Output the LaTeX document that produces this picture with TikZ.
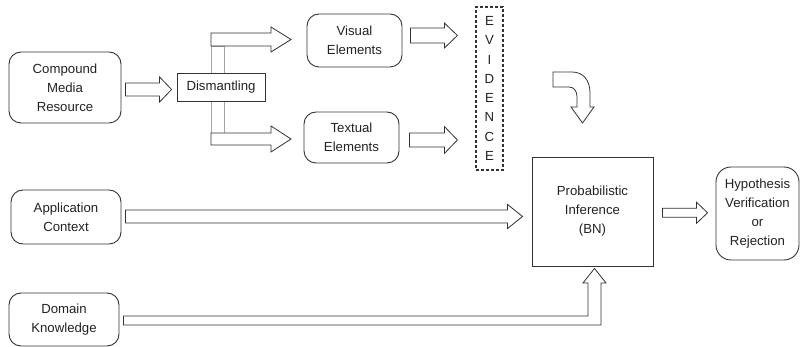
\documentclass[tikz,border=0pt]{standalone}
\usepackage{fontspec}
\setmainfont{Liberation Sans}
\usetikzlibrary{calc}
\definecolor{ln}{HTML}{333333}
\definecolor{tx}{HTML}{222222}
\tikzset{
  box/.style={draw=ln, line width=0.9pt, rounded corners=12pt, align=center, inner sep=0pt, text=tx,
    font=\fontsize{13.2}{19}\selectfont},
  sbox/.style={box, rounded corners=0pt},
  evbox/.style={draw=ln, line width=1.2pt, dash pattern=on 3pt off 2pt, align=center, inner sep=0pt, text=tx,
    font=\fontsize{13.2}{19.3}\selectfont},
  blk/.style={draw=ln, line width=0.8pt, fill=white, line join=miter},
  bar/.style={draw=gray!70, line width=0.8pt, fill=white}
}
\newcommand{\harr}[5]{%
  \draw[blk] let \p1=(#1), \p2=(#2) in
    (\x1,\y1+#3pt) -- (\x2-#5pt,\y1+#3pt) -- (\x2-#5pt,\y1+#4pt) -- (\x2,\y1)
    -- (\x2-#5pt,\y1-#4pt) -- (\x2-#5pt,\y1-#3pt) -- (\x1,\y1-#3pt) -- cycle;}
\begin{document}
\begin{tikzpicture}[x=1pt,y=-1pt]
\useasboundingbox (0,0) rectangle (801,347);
% gray bars behind the Dismantling box
\draw[bar] (211,46) rectangle (224,73);
\draw[bar] (211,101) rectangle (224,133);
% nodes
\node[box, minimum width=112pt, minimum height=71pt] (cmr) at (65,87.5) {Compound\\Media\\Resource};
\node[sbox, fill=white, minimum width=88pt, minimum height=28pt] (dis) at (221,87) {Dismantling};
\node[box, minimum width=95pt, minimum height=53pt] (vis) at (354.5,40.5) {Visual\\Elements};
\node[box, minimum width=95pt, minimum height=51pt] (tex) at (351.5,137.5) {Textual\\Elements};
\node[evbox, minimum width=27pt, minimum height=163pt] (evi) at (489.5,88.5) {E\\V\\I\\D\\E\\N\\C\\E};
\node[sbox, minimum width=121pt, minimum height=109pt] (pi) at (592.5,211.5) {Probabilistic\\Inference\\(BN)};
\node[box, rounded corners=15pt, minimum width=83pt, minimum height=93pt] (hyp) at (757.5,213.5) {Hypothesis\\Verification\\or\\Rejection};
\node[box, minimum width=110pt, minimum height=54pt] (app) at (66,217) {Application\\Context};
\node[box, minimum width=110pt, minimum height=53pt] (dom) at (64,319.5) {Domain\\Knowledge};
% arrow end points
\coordinate (a1s) at ($(cmr.east)+(4,2)$);
\coordinate (a1e) at ($(dis.west)+(-5,0)$);
\coordinate (a3s) at ($(vis.east)+(8,-5)$);
\coordinate (a3e) at ($(evi.west)+(-18,0)$);
\coordinate (a4s) at ($(tex.east)+(10,2.5)$);
\coordinate (a4e) at ($(evi.west)+(-18,0)$);
\coordinate (a6s) at ($(app.east)+(4,-0.5)$);
\coordinate (a6e) at ($(pi.west)+(-9,0)$);
\coordinate (a7s) at ($(pi.east)+(9,1.3)$);
\coordinate (a7e) at ($(hyp.west)+(-8,0)$);
% straight block arrows
\harr{a1s}{a1e}{6.5}{12.5}{12}
\harr{a3s}{a3e}{7.5}{12.5}{13}
\harr{a4s}{a4e}{7}{13.5}{13}
\harr{a6s}{a6e}{6.5}{12}{15}
\harr{a7s}{a7e}{4.5}{10.5}{11}
% split arrows out of Dismantling
\draw[blk] (211,33) -- (271,33) -- (271,27) -- (291,39.5) -- (271,52) -- (271,46) -- (211,46) -- cycle;
\draw[blk] (211,133) -- (271,133) -- (271,126) -- (291,139) -- (271,152) -- (271,145) -- (211,145) -- cycle;
% curved arrow from evidence to inference
\draw[blk] (553,72) -- (572,72) .. controls (583,72) and (590,80) .. (590,93) -- (590,107) -- (594,107)
  -- (582.5,123) -- (571,107) -- (577,107) -- (577,97) .. controls (577,91) and (574,87) .. (569,87)
  -- (553,87) -- cycle;
% domain knowledge arrow
\draw[blk] ($(dom.east)+(4,-3.5)$) -- (588,316) -- (588,283) -- (583,283) -- ($(pi.south)+(2,2)$)
  -- (606,283) -- (601,283) -- (601,325) -- ($(dom.east)+(4,5.5)$) -- cycle;
\end{tikzpicture}
\end{document}
